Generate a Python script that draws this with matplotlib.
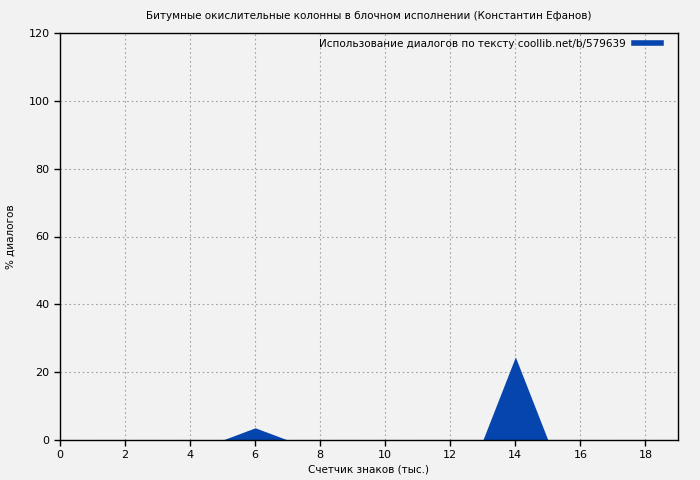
import numpy as np
import matplotlib
matplotlib.use("Agg")
import matplotlib.pyplot as plt
from matplotlib.lines import Line2D

# Data
chars_k = [0, 1, 2, 3, 4, 5, 6, 7, 8, 9, 10, 11, 12, 13, 14, 15, 16, 17, 18, 19]
dialog_pct = [0, 0, 0, 0, 0, 0, 3.6, 0, 0, 0, 0, 0, 0, 0, 24.5, 0, 0, 0, 0, 0]

TITLE = "Битумные окислительные колонны в блочном исполнении (Константин Ефанов)"
XLABEL = "Счетчик знаков (тыс.)"
YLABEL = "% диалогов"
LEGEND = "Использование диалогов по тексту coollib.net/b/579639"

BG = "#f2f2f2"
FILL = "#0645ad"

plt.rcParams["font.family"] = "DejaVu Sans"
fig = plt.figure(figsize=(7, 4.8), dpi=100, facecolor=BG)
ax = fig.add_axes([60 / 700, 1 - 440 / 480, 618 / 700, 407 / 480])
ax.set_facecolor(BG)

ax.fill_between(chars_k, dialog_pct, 0, color=FILL, linewidth=0, zorder=2)

ax.set_xlim(0, 19)
ax.set_ylim(0, 120)
ax.set_xticks(np.arange(0, 19, 2))
ax.set_yticks(np.arange(0, 121, 20))
ax.grid(True, color="#a0a0a0", linestyle=(0, (1.5, 2.5)), linewidth=0.8, zorder=0)
ax.set_axisbelow(True)
ax.tick_params(labelsize=8, length=4, width=1, direction="out", color="black")
for s in ax.spines.values():
    s.set_linewidth(1)
    s.set_color("black")

ax.set_xlabel(XLABEL, fontsize=7.5, labelpad=3)
ax.set_ylabel(YLABEL, fontsize=7.5, labelpad=9)
fig.text(0.527, 1 - 16 / 480, TITLE, fontsize=7.5, ha="center", va="center")

handle = Line2D([0], [0], color=FILL, linewidth=4)
ax.legend([handle], [LEGEND], loc="upper right", frameon=False, fontsize=7.5,
          markerfirst=False, handlelength=2.6, borderaxespad=0.3,
          bbox_to_anchor=(0.985, 1.004))

fig.savefig("out.png", dpi=100, facecolor=BG)
